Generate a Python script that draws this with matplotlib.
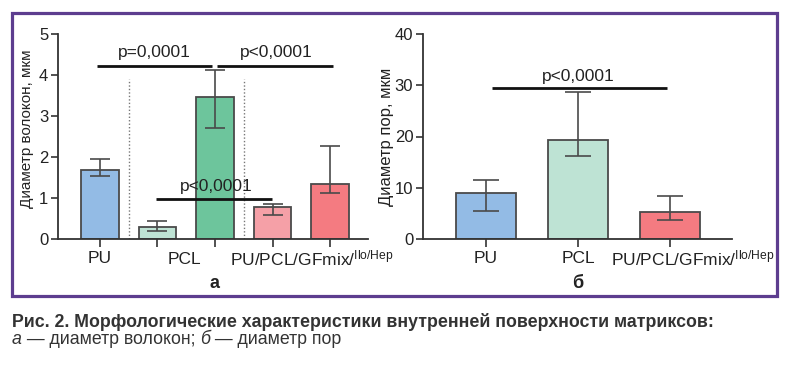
import matplotlib.pyplot as plt
from matplotlib.patches import Rectangle

plt.rcParams['font.family'] = ['Liberation Sans', 'DejaVu Sans']

# panel a - fiber diameter
fiber_mean = [1.69, 0.30, 3.46, 0.78, 1.35]
fiber_low = [1.53, 0.20, 2.70, 0.59, 1.13]
fiber_high = [1.95, 0.44, 4.13, 0.86, 2.28]
fiber_colors = ["#93BBE5", "#BEE3D4", "#6DC59C", "#F5A0A7", "#F47B81"]

# panel b - pore diameter
pore_mean = [8.9, 19.3, 5.3]
pore_low = [5.5, 16.2, 3.7]
pore_high = [11.5, 28.6, 8.3]
pore_colors = ["#93BBE5", "#BEE3D4", "#F47B81"]

edge = "#4a4a4a"
txtc = "#222222"
W, H = 788, 366

fig = plt.figure(figsize=(W / 100, H / 100), dpi=100)


def px_axes(x0, x1, ytop, ybot):
    return fig.add_axes([x0 / W, 1 - ybot / H, (x1 - x0) / W, (ybot - ytop) / H])


def style(ax):
    for s in ["top", "right"]:
        ax.spines[s].set_visible(False)
    for s in ["left", "bottom"]:
        ax.spines[s].set_color("#333333")
        ax.spines[s].set_linewidth(1.3)
    ax.tick_params(axis="y", length=5, width=1.2, color="#333333", labelsize=12, pad=2, labelcolor=txtc)
    ax.tick_params(axis="x", length=6, width=1.2, color="#333333", labelbottom=False)


def bars(ax, mean, low, high, colors, capsize):
    x = list(range(len(mean)))
    ax.bar(x, mean, width=0.65, color=colors, edgecolor=edge, linewidth=1.3, zorder=2)
    yerr = [[m - l for m, l in zip(mean, low)], [h - m for m, h in zip(mean, high)]]
    ax.errorbar(x, mean, yerr=yerr, fmt="none", ecolor=edge, elinewidth=1.2,
                capsize=capsize, capthick=1.2, zorder=3)
    ax.set_xticks(x)


def sig(ax, x0, x1, y, label=None, tx=None, ty=None):
    ax.plot([x0, x1], [y, y], color="#111111", lw=2.0, clip_on=False, zorder=4, solid_capstyle="butt")
    if label:
        ax.text(tx, ty, label, ha="center", va="center", fontsize=12.5, color=txtc)


# ---- panel a
ax1 = px_axes(58, 368, 34, 239)
bars(ax1, fiber_mean, fiber_low, fiber_high, fiber_colors, 7)
ax1.set_xlim(-0.73, 4.66)
ax1.set_ylim(0, 5)
ax1.set_yticks([0, 1, 2, 3, 4, 5])
style(ax1)
ax1.set_ylabel("Диаметр волокон, мкм", fontsize=11, color=txtc)
ax1.yaxis.set_label_coords(-0.077, 0.54)
for xv in [0.5, 2.5]:
    ax1.plot([xv, xv], [0, 3.9], color="#777777", lw=1.0, ls=(0, (1, 1.5)), zorder=1)
sig(ax1, -0.05, 1.95, 4.23, "p=0,0001", 0.94, 4.54)
sig(ax1, 2.04, 4.05, 4.23, "p<0,0001", 3.07, 4.54)
sig(ax1, 0.97, 2.99, 0.97, "p<0,0001", 2.03, 1.27)
lab_y = -0.47
ax1.text(0, lab_y, "PU", ha="center", va="center", fontsize=12.5, color=txtc)
ax1.text(1.46, lab_y - 0.04, "PCL", ha="center", va="center", fontsize=12.5, color=txtc)
ax1.text(2.26, lab_y, r"PU/PCL/GFmix/$\mathregular{^{Ilo/Hep}}$", ha="left", va="center",
         fontsize=12.5, color=txtc)

# ---- panel b
ax2 = px_axes(423, 732, 34, 239)
bars(ax2, pore_mean, pore_low, pore_high, pore_colors, 9.5)
ax2.set_xlim(-0.68, 2.67)
ax2.set_ylim(0, 40)
ax2.set_yticks([0, 10, 20, 30, 40])
style(ax2)
ax2.set_ylabel("Диаметр пор, мкм", fontsize=12, color=txtc)
ax2.yaxis.set_label_coords(-0.094, 0.5)
sig(ax2, 0.07, 1.96, 29.5, "p<0,0001", 1.0, 31.8)
lab_y2 = -3.8
ax2.text(0, lab_y2, "PU", ha="center", va="center", fontsize=12.5, color=txtc)
ax2.text(1.0, lab_y2, "PCL", ha="center", va="center", fontsize=12.5, color=txtc)
ax2.text(1.36, lab_y2, r"PU/PCL/GFmix/$\mathregular{^{Ilo/Hep}}$", ha="left", va="center",
         fontsize=12.5, color=txtc)

# panel letters
fig.text(215 / W, 1 - 284 / H, "а", ha="center", va="center", fontsize=13, fontweight="bold", color=txtc)
fig.text(578 / W, 1 - 283 / H, "б", ha="center", va="center", fontsize=13, fontweight="bold", color=txtc)

# purple frame
fig.patches.append(Rectangle((12 / W, 1 - 296 / H), 765 / W, 283 / H, transform=fig.transFigure,
                             fill=False, edgecolor="#5D3D8F", linewidth=2.3))

# caption
fig.text(12 / W, 1 - 322 / H, "Рис. 2. Морфологические характеристики внутренней поверхности матриксов:",
         ha="left", va="center", fontsize=12.8, fontweight="bold", color="#333333")

parts = [("а", "italic"), (" — диаметр волокон; ", "normal"), ("б", "italic"), (" — диаметр пор", "normal")]
renderer = fig.canvas.get_renderer()
xpos = 12
for txt, st in parts:
    t = fig.text(xpos / W, 1 - 340 / H, txt, ha="left", va="center", fontsize=12.8,
                 style=st, color="#333333")
    xpos += t.get_window_extent(renderer).width

fig.savefig("out.png", dpi=100)
